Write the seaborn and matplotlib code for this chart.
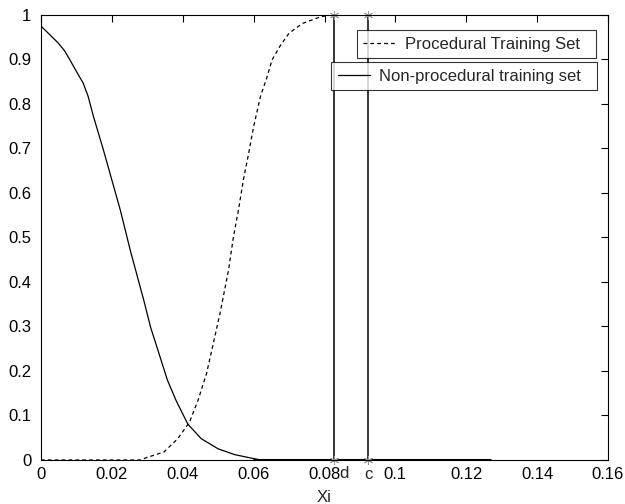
import numpy as np
import pandas as pd
import matplotlib
matplotlib.use('Agg')
import matplotlib.pyplot as plt
import seaborn as sns

# curves
xi_non = [0.0, 0.0048, 0.0067, 0.0081, 0.010, 0.0119, 0.0133, 0.0148, 0.0176,
          0.020, 0.0224, 0.0238, 0.0252, 0.029, 0.0309, 0.0333, 0.0357, 0.0381,
          0.0414, 0.0452, 0.050, 0.0547, 0.0595, 0.0620]
p_non = [0.975, 0.9375, 0.919, 0.90, 0.873, 0.847, 0.817, 0.772, 0.697,
         0.629, 0.561, 0.516, 0.471, 0.359, 0.299, 0.239, 0.179, 0.134,
         0.081, 0.048, 0.025, 0.012, 0.004, 0.0]

xi_proc = [0.0, 0.010, 0.020, 0.028, 0.030, 0.0347, 0.0386, 0.0419, 0.0443,
           0.0467, 0.0486, 0.0505, 0.0529, 0.0543, 0.0557, 0.0571, 0.0586, 0.060,
           0.0619, 0.0638, 0.0652, 0.0676, 0.070, 0.0738, 0.0786, 0.0814]
p_proc = [0.0, 0.0, 0.0, 0.0, 0.006, 0.018, 0.048, 0.085, 0.134,
          0.194, 0.261, 0.329, 0.426, 0.501, 0.561, 0.629, 0.689, 0.749,
          0.816, 0.861, 0.899, 0.932, 0.959, 0.981, 0.995, 1.0]

# zero segment drawn thick
xi_zero = [0.06, 0.1267]
p_zero = [0.0, 0.0]

d_val = 0.0828
c_val = 0.0924
x_ticks = [0, 0.02, 0.04, 0.06, 0.08, 0.1, 0.12, 0.14, 0.16]
x_ticklabels = ['0', '0.02', '0.04', '0.06', '0.08', '0.1', '0.12', '0.14', '0.16']
y_ticks = [0, 0.1, 0.2, 0.3, 0.4, 0.5, 0.6, 0.7, 0.8, 0.9, 1]
y_ticklabels = ['0', '0.1', '0.2', '0.3', '0.4', '0.5', '0.6', '0.7', '0.8', '0.9', '1']

sns.set_style('white')
plt.rcParams['font.family'] = ['Liberation Sans', 'DejaVu Sans']
FS = 12

fig = plt.figure(figsize=(6.25, 5.04), dpi=100)
ax = fig.add_axes([0.0656, 0.0873, 0.9072, 0.883])

df_proc = pd.DataFrame({'Xi': xi_proc, 'p': p_proc})
df_non = pd.DataFrame({'Xi': xi_non, 'p': p_non})
df_zero = pd.DataFrame({'Xi': xi_zero, 'p': p_zero})

l_proc = sns.lineplot(data=df_proc, x='Xi', y='p', ax=ax, color='black',
                      linewidth=0.9, linestyle=(0, (3, 2.5)), sort=False).lines[-1]
l_non = sns.lineplot(data=df_non, x='Xi', y='p', ax=ax, color='black',
                     linewidth=0.9, sort=False).lines[-1]
sns.lineplot(data=df_zero, x='Xi', y='p', ax=ax, color='black', linewidth=2.2)

for v in [d_val, c_val]:
    ax.plot([v, v], [0, 1], color='black', linewidth=1.1, clip_on=False)
    ax.plot([v, v], [0, 1], linestyle='none', marker=(6, 2, 0), markersize=6.5,
            markeredgewidth=0.7, color='#999999', clip_on=False)

ax.annotate('d', xy=(d_val, 0), xycoords=('data', 'axes fraction'),
            xytext=(7, -4), textcoords='offset points', ha='center', va='top',
            fontsize=FS)
ax.annotate('c', xy=(c_val, 0), xycoords=('data', 'axes fraction'),
            xytext=(0, -5), textcoords='offset points', ha='center', va='top',
            fontsize=FS)

ax.set_xlim(0, 0.16)
ax.set_ylim(0, 1)
ax.set_xticks(x_ticks)
ax.set_xticklabels(x_ticklabels)
ax.set_yticks(y_ticks)
ax.set_yticklabels(y_ticklabels)
ax.set_xlabel('Xi', fontsize=FS, labelpad=5.5)
ax.set_ylabel('')
ax.tick_params(direction='in', length=5, width=0.8, top=True, right=True,
               labelsize=FS, colors='black')
ax.tick_params(axis='x', pad=5)
ax.tick_params(axis='y', pad=7)
for s in ax.spines.values():
    s.set_color('black')
    s.set_linewidth(0.8)

leg_kw = dict(loc='upper right', frameon=True, fancybox=False, fontsize=FS,
              handlelength=1.95, handletextpad=0.55, borderpad=0.4,
              borderaxespad=0)
leg1 = ax.legend([l_proc], ['Procedural Training Set  '],
                 bbox_to_anchor=(0.9788, 0.9663), **leg_kw)
leg1.get_frame().set_edgecolor('black')
leg1.get_frame().set_linewidth(0.8)
ax.add_artist(leg1)
leg2 = ax.legend([l_non], ['Non-procedural training set  '],
                 bbox_to_anchor=(0.9806, 0.8944), **leg_kw)
leg2.get_frame().set_edgecolor('black')
leg2.get_frame().set_linewidth(0.8)

fig.savefig('out.png', dpi=100, facecolor='white')
